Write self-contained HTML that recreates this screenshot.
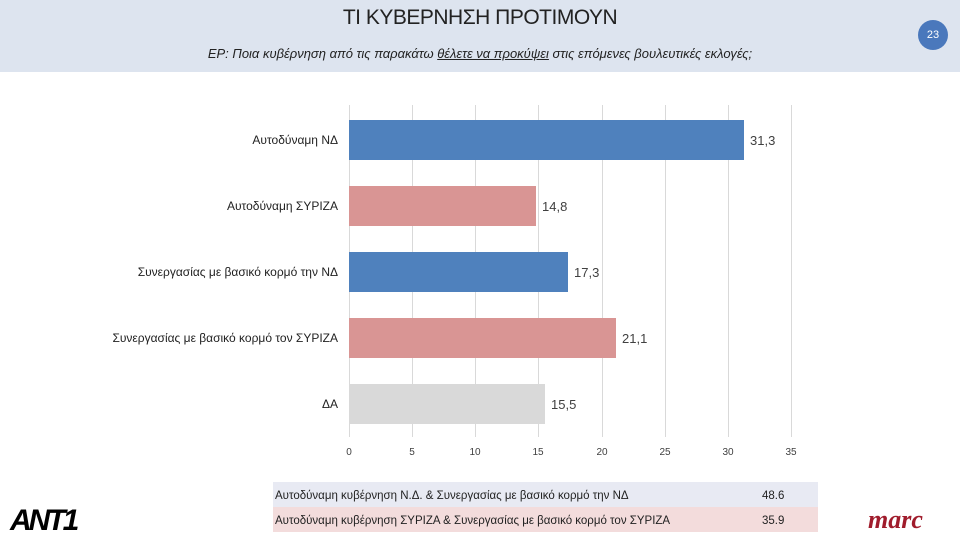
<!DOCTYPE html><html><head><meta charset="utf-8"><style>
body{margin:0;width:960px;height:538px;background:#fff;font-family:"Liberation Sans","DejaVu Sans",sans-serif;position:relative;overflow:hidden}
.hdr{position:absolute;left:0;top:0;width:960px;height:72px;background:#dde4ef}
.t{position:absolute;left:0;width:960px;text-align:center}
</style></head><body>
<div class="hdr"></div>
<div class="t" style="top:6px;font-size:21px;color:#222;letter-spacing:-0.5px">ΤΙ ΚΥΒΕΡΝΗΣΗ ΠΡΟΤΙΜΟΥΝ</div>
<div class="t" style="top:46px;font-size:13px;font-style:italic;color:#222">ΕΡ: Ποια κυβέρνηση από τις παρακάτω <u>θέλετε να προκύψει</u> στις επόμενες βουλευτικές εκλογές;</div>
<div style="position:absolute;left:918px;top:20px;width:30px;height:30px;border-radius:50%;background:#4a78bc;color:#fff;font-size:11px;text-align:center;line-height:30px">23</div>
<svg style="position:absolute;left:0;top:0" width="960" height="538" font-family="Liberation Sans, DejaVu Sans, sans-serif">
<g stroke="#d9d9d9" stroke-width="1">
<line x1="349.5" y1="105" x2="349.5" y2="437"/><line x1="412.5" y1="105" x2="412.5" y2="437"/><line x1="475.5" y1="105" x2="475.5" y2="437"/><line x1="538.5" y1="105" x2="538.5" y2="437"/><line x1="602.5" y1="105" x2="602.5" y2="437"/><line x1="665.5" y1="105" x2="665.5" y2="437"/><line x1="728.5" y1="105" x2="728.5" y2="437"/><line x1="791.5" y1="105" x2="791.5" y2="437"/>
</g>
<rect x="349" y="120" width="395" height="40" fill="#4f81bd"/>
<rect x="349" y="186" width="187" height="40" fill="#d99594"/>
<rect x="349" y="252" width="219" height="40" fill="#4f81bd"/>
<rect x="349" y="318" width="267" height="40" fill="#d99594"/>
<rect x="349" y="384" width="196" height="40" fill="#d9d9d9"/>
<g font-size="13" fill="#404040">
<text x="750" y="145">31,3</text><text x="542" y="211">14,8</text><text x="574" y="277">17,3</text><text x="622" y="343">21,1</text><text x="551" y="409">15,5</text>
</g>
<g font-size="12" fill="#222" text-anchor="end">
<text x="338" y="144">Αυτοδύναμη ΝΔ</text><text x="338" y="210">Αυτοδύναμη ΣΥΡΙΖΑ</text><text x="338" y="276">Συνεργασίας με βασικό κορμό την ΝΔ</text><text x="338" y="342">Συνεργασίας με βασικό κορμό τον ΣΥΡΙΖΑ</text><text x="338" y="408">ΔΑ</text>
</g>
<g font-size="10" fill="#404040" text-anchor="middle">
<text x="349" y="455">0</text><text x="412" y="455">5</text><text x="475" y="455">10</text><text x="538" y="455">15</text><text x="602" y="455">20</text><text x="665" y="455">25</text><text x="728" y="455">30</text><text x="791" y="455">35</text>
</g>
<rect x="273" y="482" width="545" height="25" fill="#e8eaf3"/>
<rect x="273" y="507" width="545" height="25" fill="#f3dcdc"/>
<g font-size="11.5" fill="#222">
<text x="275" y="499">Αυτοδύναμη κυβέρνηση Ν.Δ. &amp; Συνεργασίας με βασικό κορμό την ΝΔ</text>
<text x="275" y="524">Αυτοδύναμη κυβέρνηση ΣΥΡΙΖΑ &amp; Συνεργασίας με βασικό κορμό τον ΣΥΡΙΖΑ</text>
<text x="762" y="499">48.6</text><text x="762" y="524">35.9</text>
</g>
<text x="10" y="530" font-size="30" font-weight="bold" font-style="italic" fill="#000" letter-spacing="-3">ΑΝΤ1</text>
<text x="868" y="528" font-size="26" font-weight="bold" font-style="italic" fill="#a01c2c" font-family="Liberation Serif, serif">marc</text>
</svg>
</body></html>
